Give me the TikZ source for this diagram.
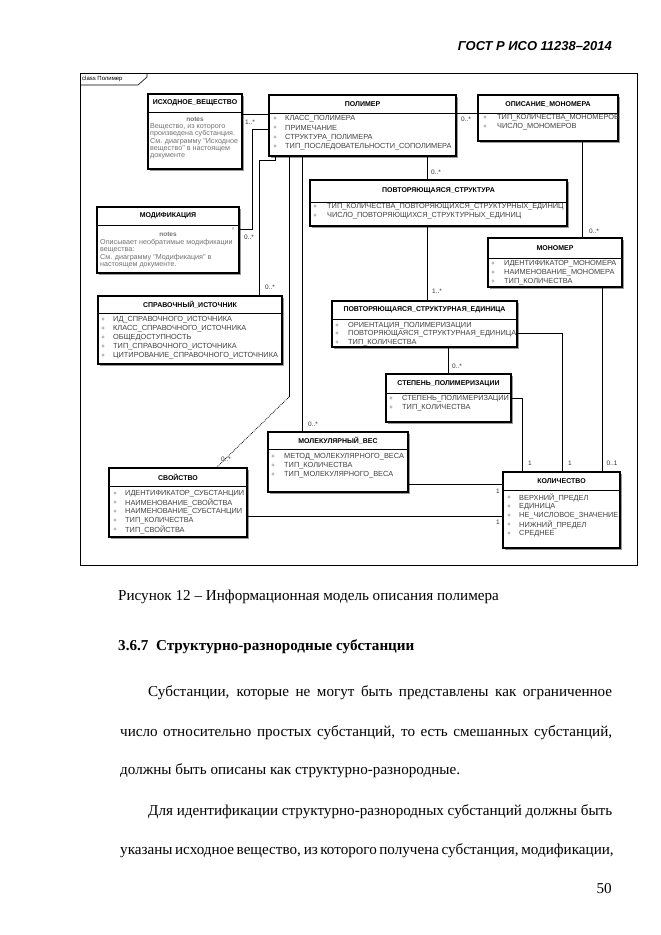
\documentclass[tikz,border=0pt]{standalone}
\usepackage{fontspec}
\setmainfont{Liberation Serif}
\newfontfamily\dsans{Liberation Sans}
\newcount\tnum
\tikzset{
 boxst/.style={draw=black, line width=1.1bp, fill=white, inner sep=0pt, outer sep=0pt},
 sepst/.style={draw=black, line width=0.9bp},
 shd/.style={fill=black!40},
 ttl/.style={font=\dsans\bfseries\fontsize{7}{8}\selectfont, text=black, inner sep=0pt},
 itm/.style={font=\dsans\fontsize{7.4}{8}\selectfont, text=black!75, anchor=west, inner sep=0pt},
 bul/.style={font=\dsans\fontsize{6}{7}\selectfont, text=black!70, inner sep=0pt},
 notest/.style={font=\dsans\fontsize{7.2}{8}\selectfont, text=black!55, anchor=west, inner sep=0pt},
 mult/.style={font=\dsans\fontsize{6.5}{7}\selectfont, text=black!80, inner sep=0pt},
 conn/.style={draw=black, line width=0.8bp},
 body/.style={font=\fontsize{15.2}{18}\selectfont, anchor=base west, inner sep=0pt},
}
\newcommand\cbox[7]{%
 \fill[shd] (#2+2,#3+2) rectangle (#4+2,#5+2);
 \node[boxst, anchor=north west, minimum width={(#4-#2)*1bp}, minimum height={(#5-#3)*1bp}] (#1) at (#2,#3) {};
 \draw[sepst] (#2,#3+#6) -- (#4,#3+#6);
 \node[ttl] (#1t) at ({(#2+#4)/2},{#3+#6/2}) {#7};
}
\newcommand\attr[4]{%
 \global\advance\tnum by 1
 \node[bul] (b\the\tnum) at (#1,#3) {+};
 \node[itm] (a\the\tnum) at (#2,#3) {#4};
}
\newcommand\ntext[3]{%
 \global\advance\tnum by 1
 \node[notest] (n\the\tnum) at (#1,#2) {#3};
}
\begin{document}
\begin{tikzpicture}[x=1bp,y=-1bp]
\useasboundingbox (0,0) rectangle (661,935);
\fill[white] (0,0) rectangle (661,935);

% header
\node[font=\dsans\bfseries\itshape\fontsize{13}{15}\selectfont, anchor=base east, inner sep=0pt] (hdr) at (612,50) {ГОСТ Р ИСО 11238–2014};

% frame
\node[draw=black, line width=0.6bp, anchor=north west, minimum width=557bp, minimum height=492bp, inner sep=0pt, outer sep=0pt] (frame) at (80,73) {};
\draw[line width=0.6bp] (80,85) -- (138,85) -- (147,77) -- (147,73);
\node[font=\dsans\fontsize{6}{7}\selectfont, anchor=west, inner sep=0pt] (ftab) at (82,79) {class Полимер};

% boxes
\cbox{isx}{148}{94}{242}{169}{18}{ИСХОДНОЕ\_ВЕЩЕСТВО}
\node[notest, anchor=center, font=\dsans\bfseries\fontsize{6.5}{7}\selectfont] (isxn) at (195,119) {notes};
\ntext{150}{126.5}{Вещество, из которого}
\ntext{150}{134}{произведена субстанция.}
\ntext{150}{141.5}{См. диаграмму "Исходное}
\ntext{150}{149}{вещество" в настоящем}
\ntext{150}{156.5}{документе}

\cbox{pol}{269}{95}{456}{156}{18}{ПОЛИМЕР}
\attr{275}{285}{119}{КЛАСС\_ПОЛИМЕРА}
\attr{275}{285}{128}{ПРИМЕЧАНИЕ}
\attr{275}{285}{137.5}{СТРУКТУРА\_ПОЛИМЕРА}
\attr{275}{285}{147}{ТИП\_ПОСЛЕДОВАТЕЛЬНОСТИ\_СОПОЛИМЕРА}

\cbox{om}{478}{95}{618}{141}{18}{ОПИСАНИЕ\_МОНОМЕРА}
\attr{485}{497}{118}{ТИП\_КОЛИЧЕСТВА\_МОНОМЕРОВ}
\attr{485}{497}{127}{ЧИСЛО\_МОНОМЕРОВ}

\cbox{mod}{97}{207}{239}{273}{18}{МОДИФИКАЦИЯ}
\node[notest, anchor=center, font=\dsans\bfseries\fontsize{6.5}{7}\selectfont] (modn) at (168,234) {notes};
\node[notest, anchor=center, font=\dsans\fontsize{5}{6}\selectfont] (modx) at (233,229) {×};
\ntext{100}{242.5}{Описывает необратимые модификации}
\ntext{100}{250}{вещества:}
\ntext{100}{258}{См. диаграмму "Модификация" в}
\ntext{100}{265.5}{настоящем документе.}

\cbox{spr}{98}{296}{282}{364}{17}{СПРАВОЧНЫЙ\_ИСТОЧНИК}
\attr{103}{113}{320}{ИД\_СПРАВОЧНОГО\_ИСТОЧНИКА}
\attr{103}{113}{329}{КЛАСС\_СПРАВОЧНОГО\_ИСТОЧНИКА}
\attr{103}{113}{338}{ОБЩЕДОСТУПНОСТЬ}
\attr{103}{113}{347}{ТИП\_СПРАВОЧНОГО\_ИСТОЧНИКА}
\attr{103}{113}{356}{ЦИТИРОВАНИЕ\_СПРАВОЧНОГО\_ИСТОЧНИКА}

\cbox{ps}{310}{180}{567}{226}{22}{ПОВТОРЯЮЩАЯСЯ\_СТРУКТУРА}
\attr{315}{327}{207}{ТИП\_КОЛИЧЕСТВА\_ПОВТОРЯЮЩИХСЯ\_СТРУКТУРНЫХ\_ЕДИНИЦ}
\attr{315}{327}{215.5}{ЧИСЛО\_ПОВТОРЯЮЩИХСЯ\_СТРУКТУРНЫХ\_ЕДИНИЦ}

\cbox{mon}{488}{238}{622}{287}{20}{МОНОМЕР}
\attr{493}{504}{264}{ИДЕНТИФИКАТОР\_МОНОМЕРА}
\attr{493}{504}{273}{НАИМЕНОВАНИЕ\_МОНОМЕРА}
\attr{493}{504}{282}{ТИП\_КОЛИЧЕСТВА}

\cbox{pse}{332}{301}{517}{347}{18}{ПОВТОРЯЮЩАЯСЯ\_СТРУКТУРНАЯ\_ЕДИНИЦА}
\attr{337}{348}{325.5}{ОРИЕНТАЦИЯ\_ПОЛИМЕРИЗАЦИИ}
\attr{337}{348}{334}{ПОВТОРЯЮЩАЯСЯ\_СТРУКТУРНАЯ\_ЕДИНИЦА}
\attr{337}{348}{342.5}{ТИП\_КОЛИЧЕСТВА}

\cbox{st}{386}{374}{511}{422}{19}{СТЕПЕНЬ\_ПОЛИМЕРИЗАЦИИ}
\attr{391}{402}{399}{СТЕПЕНЬ\_ПОЛИМЕРИЗАЦИИ}
\attr{391}{402}{408}{ТИП\_КОЛИЧЕСТВА}

\cbox{mv}{268}{432}{408}{492}{17}{МОЛЕКУЛЯРНЫЙ\_ВЕС}
\attr{273}{284}{457}{МЕТОД\_МОЛЕКУЛЯРНОГО\_ВЕСА}
\attr{273}{284}{466}{ТИП\_КОЛИЧЕСТВА}
\attr{273}{284}{475}{ТИП\_МОЛЕКУЛЯРНОГО\_ВЕСА}

\cbox{svo}{109}{468}{247}{537}{18}{СВОЙСТВО}
\attr{115}{125}{494}{ИДЕНТИФИКАТОР\_СУБСТАНЦИИ}
\attr{115}{125}{503}{НАИМЕНОВАНИЕ\_СВОЙСТВА}
\attr{115}{125}{511.5}{НАИМЕНОВАНИЕ\_СУБСТАНЦИИ}
\attr{115}{125}{520.5}{ТИП\_КОЛИЧЕСТВА}
\attr{115}{125}{529.5}{ТИП\_СВОЙСТВА}

\cbox{kol}{503}{472}{620}{548}{18}{КОЛИЧЕСТВО}
\attr{509}{519}{498}{ВЕРХНИЙ\_ПРЕДЕЛ}
\attr{509}{519}{507}{ЕДИНИЦА}
\attr{509}{519}{516}{НЕ\_ЧИСЛОВОЕ\_ЗНАЧЕНИЕ}
\attr{509}{519}{525}{НИЖНИЙ\_ПРЕДЕЛ}
\attr{509}{519}{533.5}{СРЕДНЕЕ}

% connectors
\draw[conn] (isx.east |- 0,114) -- (pol.west |- 0,114);
\draw[conn] (mod.east |- 0,229) -- (252,229) -- (252,129) -- (pol.west |- 0,129);
\draw[conn] (pol.south -| 275,0) -- (275,160) -- (259,160) -- (spr.north -| 259,0);
\draw[conn] (pol.south -| 289,0) -- coordinate[pos=1] (dbend) (289,397);
\draw[conn, densely dotted] (dbend) -- (svo.north -| 216,0);
\draw[conn] (pol.south -| 302,0) -- (mv.north -| 302,0);
\draw[conn] (pol.south -| 427,0) -- (ps.north -| 427,0);
\draw[conn] (pol.east |- 0,113) -- (om.west |- 0,113);
\draw[conn] (om.south -| 582,0) -- (mon.north -| 582,0);
\draw[conn] (ps.south -| 427,0) -- (pse.north -| 427,0);
\draw[conn] (pse.south -| 448,0) -- (st.north -| 448,0);
\draw[conn] (st.east |- 0,398) -| (kol.north -| 522,0);
\draw[conn] (pse.east |- 0,333) -| (kol.north -| 562,0);
\draw[conn] (mon.south -| 602,0) -- (kol.north -| 602,0);
\draw[conn] (mv.east |- 0,484) -- (kol.west |- 0,484);
\draw[conn] (svo.east |- 0,516) -- (kol.west |- 0,516);

% multiplicities
\node[mult] (m1) at (250,122) {1..*};
\node[mult] (m2) at (249,237) {0..*};
\node[mult] (m3) at (270,287) {0..*};
\node[mult] (m4) at (226,459) {0..*};
\node[mult] (m5) at (313,424) {0..*};
\node[mult] (m6) at (436,172) {0..*};
\node[mult] (m7) at (466,119) {0..*};
\node[mult] (m8) at (594,231) {0..*};
\node[mult] (m9) at (437,291) {1..*};
\node[mult] (m10) at (457,366) {0..*};
\node[mult] (m11) at (530,463) {1};
\node[mult] (m12) at (570,463) {1};
\node[mult] (m13) at (612,463) {0..1};
\node[mult] (m14) at (498,491) {1};
\node[mult] (m15) at (498,522) {1};

% text below
\node[body] (cap) at (118,600) {Рисунок 12 – Информационная модель описания полимера};
\node[body, font=\bfseries\fontsize{15.2}{18}\selectfont] (sec) at (118,650) {3.6.7\hspace{0.5em}Структурно-разнородные субстанции};
\node[body] (l1) at (148,696) {\makebox[464bp][s]{Субстанции, которые не могут быть представлены как ограниченное}};
\node[body] (l2) at (120,736) {\makebox[492bp][s]{число относительно простых субстанций, то есть смешанных субстанций,}};
\node[body] (l3) at (120,774) {должны быть описаны как структурно-разнородные.};
\node[body] (l4) at (148,815) {\makebox[464bp][s]{Для идентификации структурно-разнородных субстанций должны быть}};
\node[body] (l5) at (120,854) {\makebox[492bp][s]{указаны исходное вещество, из которого получена субстанция, модификации,}};
\node[body, anchor=base east] (pg) at (612,893) {50};
\end{tikzpicture}
\end{document}
